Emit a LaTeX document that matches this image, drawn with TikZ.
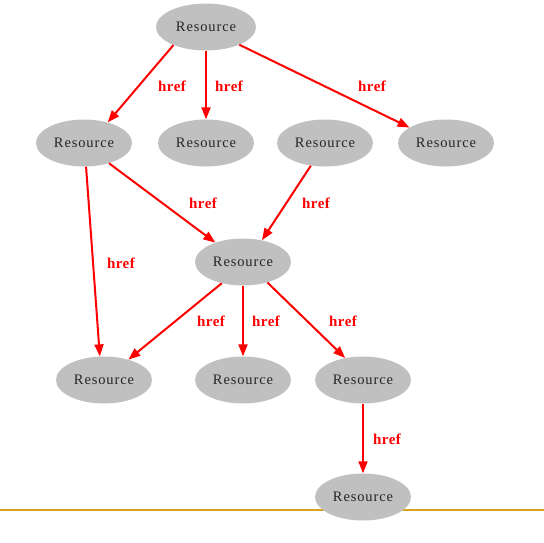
\documentclass[tikz,border=0pt]{standalone}
\usepackage{fontspec}
\setmainfont{Liberation Serif}
\usetikzlibrary{shapes.geometric,arrows.meta}
\definecolor{nodegray}{HTML}{C0C0C0}
\definecolor{rulegold}{HTML}{D9A21B}
\tikzset{
  res/.style={ellipse, fill=nodegray, draw=none, inner sep=0pt,
    minimum width=96pt, minimum height=47pt,
    font=\fontsize{14.5}{16}\selectfont\addfontfeature{LetterSpace=6},
    text=black!85},
  link/.style={draw=red, line width=2pt,
    -{Triangle[length=12pt,width=9pt]}},
  lbl/.style={text=red, inner sep=0pt,
    font=\fontsize{15}{17}\selectfont\bfseries\addfontfeature{LetterSpace=3}}
}
\begin{document}
\begin{tikzpicture}[x=1pt,y=-1pt]
  \useasboundingbox (0,0) rectangle (544,542);
  % horizontal rule behind the last resource
  \draw[rulegold, line width=1.8pt] (0,510) -- (544,510);

  % resources
  \node[res, minimum width=100pt] (top) at (206,27) {Resource};
  \node[res] (ra) at (84,143) {Resource};
  \node[res] (rb) at (206,143) {Resource};
  \node[res] (rc) at (325,143) {Resource};
  \node[res] (rd) at (446,143) {Resource};
  \node[res] (mid) at (243,262) {Resource};
  \node[res] (sa) at (104,380) {Resource};
  \node[res] (sb) at (243,380) {Resource};
  \node[res] (sc) at (363,380) {Resource};
  \node[res] (bot) at (363,497) {Resource};

  % links
  \draw[link] (top.209) -- (ra.41);
  \draw[link] (top.south) -- (rb.north);
  \draw[link] (top.332) -- (rd.157);
  \draw[link] (ra.275) -- (sa.100);
  \draw[link] (ra.321) -- (mid.145);
  \draw[link] (rc.238) -- (mid.49);
  \draw[link] (mid.225) -- (sa.40);
  \draw[link] (mid.south) -- (sb.north);
  \draw[link] (mid.320) -- (sc.129);
  \draw[link] (sc.south) -- (bot.north);

  % link labels
  \node[lbl] (l1) at (172,86) {href};
  \node[lbl] (l2) at (229,86) {href};
  \node[lbl] (l3) at (372,86) {href};
  \node[lbl] (l4) at (121,263) {href};
  \node[lbl] (l5) at (203,203) {href};
  \node[lbl] (l6) at (316,203) {href};
  \node[lbl] (l7) at (211,321) {href};
  \node[lbl] (l8) at (266,321) {href};
  \node[lbl] (l9) at (343,321) {href};
  \node[lbl] (l10) at (387,439) {href};
\end{tikzpicture}
\end{document}
